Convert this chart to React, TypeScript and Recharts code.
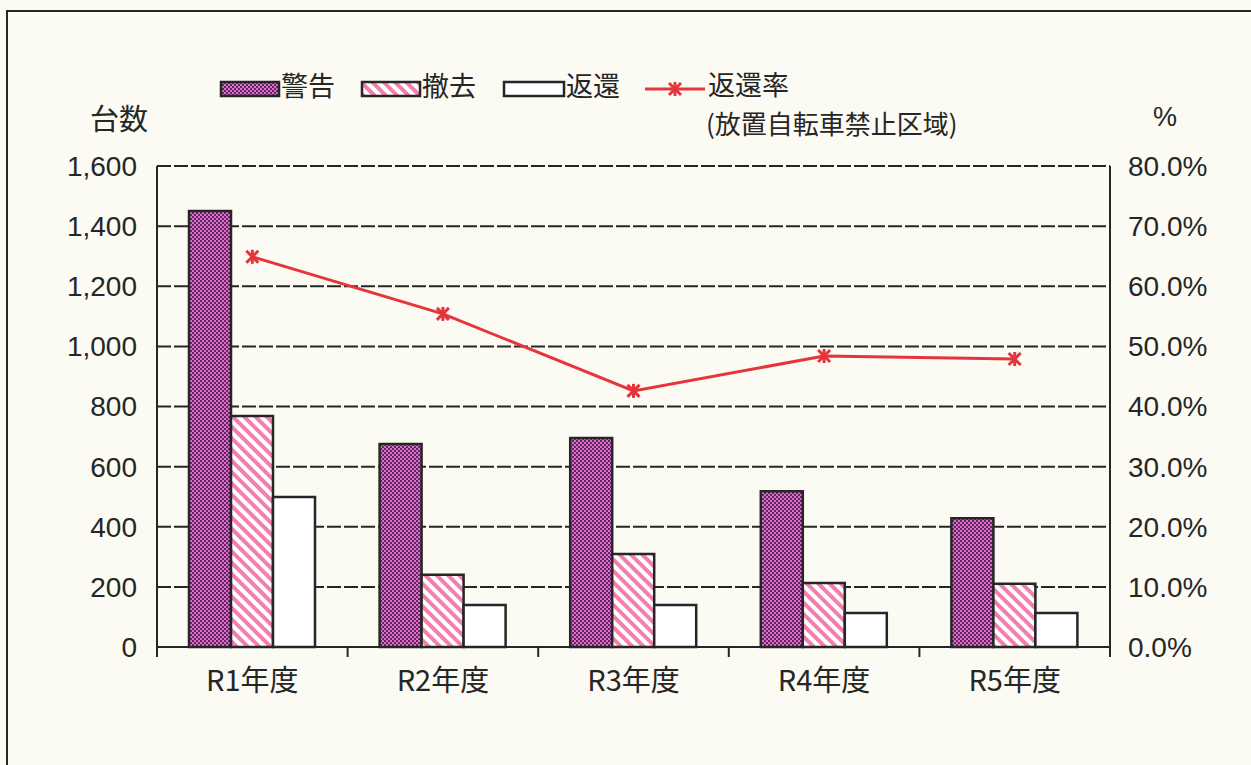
import React from "react"
import { ComposedChart, Bar, Line, XAxis, YAxis, CartesianGrid, Legend } from "recharts"

const categories = ["R1年度", "R2年度", "R3年度", "R4年度", "R5年度"]
const warning = [1450, 675, 695, 518, 428]
const removed = [768, 240, 309, 213, 210]
const returned = [499, 140, 140, 113, 113]
const returnRate = [64.9, 55.4, 42.6, 48.4, 47.9]
const leftTicks = [0, 200, 400, 600, 800, 1000, 1200, 1400, 1600]
const rightTicks = [0, 10, 20, 30, 40, 50, 60, 70, 80]

const data = categories.map((name, i) => ({
  name,
  warning: warning[i],
  removed: removed[i],
  returned: returned[i],
  rate: returnRate[i],
}))

const W = 1251
const H = 765
const LEFT_W = 157
const RIGHT_W = 141
const BAND = (W - LEFT_W - RIGHT_W) / categories.length

const INK = "#262626"
const RED = "#e6343c"
const numFont = "'Liberation Sans', Arial, sans-serif"
const jpFont = "'Noto Sans CJK JP', sans-serif"

function Patterns({ prefix }: { prefix: string }) {
  return (
    <defs>
      <pattern id={`${prefix}-dots`} width="4" height="4" patternUnits="userSpaceOnUse">
        <rect width="4" height="4" fill="#e36cc6" />
        <rect width="2" height="2" fill="#5b2a66" />
        <rect x="2" y="2" width="2" height="2" fill="#5b2a66" />
      </pattern>
      <pattern
        id={`${prefix}-stripes`}
        width="8"
        height="8"
        patternUnits="userSpaceOnUse"
        patternTransform="rotate(45)"
      >
        <rect width="8" height="8" fill="#ffffff" />
        <rect width="8" height="4" fill="#f27fae" />
      </pattern>
    </defs>
  )
}

function StarDot(props: any) {
  const { cx, cy } = props
  if (cx == null || cy == null) return null
  const r = 6
  return (
    <g stroke={RED} strokeWidth={3}>
      <line x1={cx - r} y1={cy - r} x2={cx + r} y2={cy + r} />
      <line x1={cx - r} y1={cy + r} x2={cx + r} y2={cy - r} />
      <line x1={cx} y1={cy - r - 1} x2={cx} y2={cy + r + 1} />
    </g>
  )
}

function CategoryTick(props: any) {
  const { x, y, payload, index } = props
  const last = index === categories.length - 1
  return (
    <g>
      <line x1={x - BAND / 2} y1={y} x2={x - BAND / 2} y2={y + 10} stroke={INK} strokeWidth={2} />
      {last && <line x1={x + BAND / 2} y1={y} x2={x + BAND / 2} y2={y + 10} stroke={INK} strokeWidth={2} />}
      <text x={x} y={y + 36} textAnchor="middle" dominantBaseline="middle" fontFamily={jpFont} fontSize={29} fill={INK}>
        {payload.value}
      </text>
    </g>
  )
}

function LegendBox() {
  const txt = { fontFamily: jpFont, fontSize: 27, fill: INK }
  return (
    <svg width={800} height={80} style={{ overflow: "visible", display: "block" }}>
      <Patterns prefix="lg" />
      <rect x={3} y={10} width={58} height={14} fill="url(#lg-dots)" stroke={INK} strokeWidth={2.5} />
      <text x={63} y={17} dominantBaseline="middle" {...txt}>警告</text>
      <rect x={144} y={10} width={58} height={14} fill="url(#lg-stripes)" stroke={INK} strokeWidth={2.5} />
      <text x={204} y={17} dominantBaseline="middle" {...txt}>撤去</text>
      <rect x={286} y={10} width={60} height={14} fill="#fff" stroke={INK} strokeWidth={2.5} />
      <text x={348} y={17} dominantBaseline="middle" {...txt}>返還</text>
      <line x1={427} y1={17} x2={487} y2={17} stroke={RED} strokeWidth={3} />
      <StarDot cx={457} cy={17} />
      <text x={490} y={16} dominantBaseline="middle" {...txt}>返還率</text>
      <text x={488} y={55} dominantBaseline="middle" {...txt} fontSize={26}>(放置自転車禁止区域)</text>
    </svg>
  )
}

export default function App() {
  return (
    <div
      style={{
        position: "absolute",
        left: 0,
        top: 0,
        width: W,
        height: H,
        background: "#fbfaf3",
        overflow: "hidden",
      }}
    >
      <div
        style={{
          position: "absolute",
          left: 6,
          top: 10,
          width: W,
          height: H,
          borderTop: `2px solid ${INK}`,
          borderLeft: `2px solid ${INK}`,
        }}
      />
      <ComposedChart
        width={W}
        height={H}
        data={data}
        margin={{ top: 166, right: 0, bottom: 58, left: 0 }}
        barCategoryGap={32}
        barGap={0}
        style={{ position: "absolute", left: 0, top: 0 }}
      >
        <Patterns prefix="ch" />
        <CartesianGrid yAxisId="left" vertical={false} stroke={INK} strokeWidth={2} strokeDasharray="14 3" />
        <XAxis
          dataKey="name"
          height={60}
          axisLine={{ stroke: INK, strokeWidth: 2 }}
          tickLine={false}
          tickSize={0}
          tickMargin={0}
          tick={<CategoryTick />}
          interval={0}
        />
        <YAxis
          yAxisId="left"
          width={LEFT_W}
          domain={[0, 1600]}
          ticks={leftTicks}
          tickFormatter={(v: number) => v.toLocaleString("en-US")}
          axisLine={{ stroke: INK, strokeWidth: 2 }}
          tickLine={false}
          tickSize={0}
          tickMargin={20}
          tick={{ fontFamily: numFont, fontSize: 28, fill: INK }}
          label={{ value: "台数", position: "insideTopLeft", dx: 85, dy: -62, style: { fontFamily: jpFont, fontSize: 29, fill: INK } }}
        />
        <YAxis
          yAxisId="right"
          orientation="right"
          width={RIGHT_W}
          domain={[0, 80]}
          ticks={rightTicks}
          tickFormatter={(v: number) => `${v.toFixed(1)}%`}
          axisLine={{ stroke: INK, strokeWidth: 2 }}
          tickLine={false}
          tickSize={0}
          tickMargin={18}
          tick={{ fontFamily: numFont, fontSize: 28, fill: INK }}
          label={{ value: "%", position: "insideTopLeft", dx: 38, dy: -64, style: { fontFamily: numFont, fontSize: 27, fill: INK } }}
        />
        <Legend
          layout="horizontal"
          verticalAlign="middle"
          align="center"
          wrapperStyle={{ position: "absolute", top: 72, left: 218, width: 800 }}
          content={() => <LegendBox />}
        />
        <Bar yAxisId="left" dataKey="warning" name="警告" fill="url(#ch-dots)" stroke={INK} strokeWidth={2.5} isAnimationActive={false} />
        <Bar yAxisId="left" dataKey="removed" name="撤去" fill="url(#ch-stripes)" stroke={INK} strokeWidth={2.5} isAnimationActive={false} />
        <Bar yAxisId="left" dataKey="returned" name="返還" fill="#ffffff" stroke={INK} strokeWidth={2.5} isAnimationActive={false} />
        <Line
          yAxisId="right"
          type="linear"
          dataKey="rate"
          name="返還率"
          stroke={RED}
          strokeWidth={3}
          dot={<StarDot />}
          activeDot={false}
          isAnimationActive={false}
        />
      </ComposedChart>
    </div>
  )
}
